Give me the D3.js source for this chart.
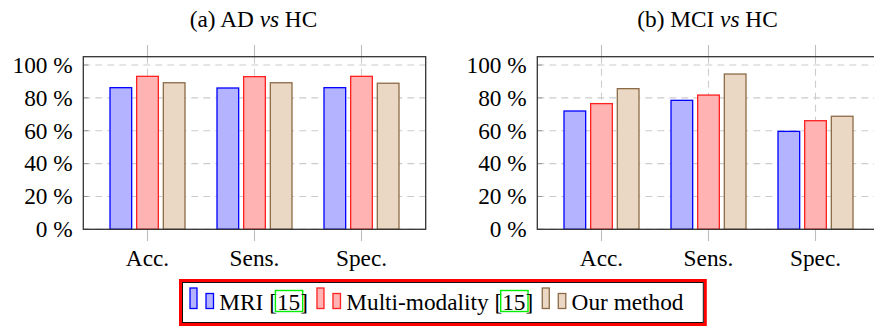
<!DOCTYPE html>
<html><head><meta charset="utf-8">
<script src="https://cdn.jsdelivr.net/npm/d3@7"></script>
<style>body{margin:0;background:#fff}svg{display:block}text{font-family:'Liberation Serif','Times New Roman',Times,'DejaVu Serif',serif}</style>
</head><body>
<svg id="c" width="874" height="327"></svg>
<script>
const categories = ["Acc.", "Sens.", "Spec."];
const seriesNames = ["MRI", "Multi-modality", "Our method"];
const yTicks = [0, 20, 40, 60, 80, 100];
const panelTitles = [["(a) AD ", "vs", " HC"], ["(b) MCI ", "vs", " HC"]];
// values (%) per series, per category
const adMRI   = [86.2, 86.0, 86.2];
const adMulti = [93.1, 92.9, 93.1];
const adOurs  = [89.2, 89.2, 88.9];
const mciMRI   = [72.0, 78.5, 59.6];
const mciMulti = [76.5, 81.7, 66.1];
const mciOurs  = [85.6, 94.5, 68.8];
const legendRef = "15";

const fills = ["#b3b3ff", "#ffb3b3", "#ead8c4"];
const strokes = ["#0000ff", "#ff2020", "#8c6a46"];

const svg = d3.select("#c");
const FS = 23.3;
const panels = [
  {left: 83.3, title: panelTitles[0], data: [adMRI, adMulti, adOurs]},
  {left: 537.3, title: panelTitles[1], data: [mciMRI, mciMulti, mciOurs]}
];
const W = 342.4, plotTop = 56.7, plotBottom = 229.3;
const y = d3.scaleLinear().domain([0, 100]).range([plotBottom, 65]);

panels.forEach(p => {
  const g = svg.append("g");
  const x = d3.scaleBand().domain(categories).range([p.left, p.left + W]).paddingInner(0).paddingOuter(0.1);
  const xs = d3.scaleBand().domain(seriesNames).range([-37.5, 37.5]).paddingInner(0.187).paddingOuter(0);
  const right = p.left + W;
  g.selectAll(".hg").data(yTicks).join("line")
    .attr("x1", p.left).attr("x2", right)
    .attr("y1", d => y(d)).attr("y2", d => y(d))
    .attr("stroke", "#cccccc").attr("stroke-width", 1.1).attr("stroke-dasharray", "7,5");
  g.selectAll(".vg").data(categories).join("line")
    .attr("x1", d => x(d) + x.bandwidth() / 2).attr("x2", d => x(d) + x.bandwidth() / 2)
    .attr("y1", plotTop).attr("y2", plotBottom)
    .attr("stroke", "#cccccc").attr("stroke-width", 1.1).attr("stroke-dasharray", "7,5");
  categories.forEach(c => {
    const cx = x(c) + x.bandwidth() / 2;
    g.append("line").attr("x1", cx).attr("x2", cx).attr("y1", 45).attr("y2", plotTop).attr("stroke", "#bdbdbd").attr("stroke-width", 1.1);
    g.append("line").attr("x1", cx).attr("x2", cx).attr("y1", plotBottom).attr("y2", 241).attr("stroke", "#bdbdbd").attr("stroke-width", 1.1);
  });
  g.selectAll(".yt").data(yTicks).join("line")
    .attr("x1", p.left).attr("x2", p.left + 5)
    .attr("y1", d => y(d)).attr("y2", d => y(d))
    .attr("stroke", "#999").attr("stroke-width", 1);
  p.data.forEach((vals, si) => {
    g.selectAll(".b" + si).data(vals).join("rect")
      .attr("x", (d, i) => x(categories[i]) + x.bandwidth() / 2 + xs(seriesNames[si]))
      .attr("width", xs.bandwidth())
      .attr("y", d => y(d)).attr("height", d => y(0) - y(d))
      .attr("fill", fills[si]).attr("stroke", strokes[si]).attr("stroke-width", 1.3);
  });
  g.append("rect").attr("x", p.left).attr("y", plotTop).attr("width", W).attr("height", plotBottom - plotTop)
    .attr("fill", "none").attr("stroke", "#333").attr("stroke-width", 1.3);
  g.selectAll(".yl").data(yTicks).join("text")
    .attr("x", p.left - 10.6).attr("y", d => y(d) + 7.8)
    .attr("text-anchor", "end").attr("font-size", FS).attr("fill", "#000")
    .text(d => d + " %");
  g.selectAll(".xl").data(categories).join("text")
    .attr("x", d => x(d) + x.bandwidth() / 2).attr("y", 266)
    .attr("text-anchor", "middle").attr("font-size", FS).attr("fill", "#000")
    .text(d => d);
  const t = g.append("text").attr("x", p.left + W / 2 - 1).attr("y", 27)
    .attr("text-anchor", "middle").attr("font-size", FS).attr("fill", "#000");
  t.append("tspan").text(p.title[0]);
  t.append("tspan").attr("font-style", "italic").text(p.title[1]);
  t.append("tspan").text(p.title[2]);
});

const lg = svg.append("g");
lg.append("rect").attr("x", 180.5).attr("y", 280.5).attr("width", 524.8).attr("height", 44)
  .attr("fill", "#fff").attr("stroke", "#ff0000").attr("stroke-width", 3);
lg.append("rect").attr("x", 182.5).attr("y", 282.5).attr("width", 520.8).attr("height", 40)
  .attr("fill", "none").attr("stroke", "#111").attr("stroke-width", 1);
let lx = 190;
const base = 309.5;
seriesNames.forEach((name, si) => {
  lg.append("rect").attr("x", lx).attr("y", 288).attr("width", 7).attr("height", 20.5)
    .attr("fill", fills[si]).attr("stroke", strokes[si]).attr("stroke-width", 1.3);
  lg.append("rect").attr("x", lx + 16).attr("y", 293.5).attr("width", 7.5).attr("height", 15)
    .attr("fill", fills[si]).attr("stroke", strokes[si]).attr("stroke-width", 1.3);
  lx += 29.3;
  const addText = (s) => {
    const t = lg.append("text").attr("x", lx).attr("y", base).attr("font-size", FS).attr("fill", "#000").text(s);
    const w = t.node().getComputedTextLength();
    lx += w;
    return w;
  };
  if (si < 2) {
    addText(name + " [");
    const x0 = lx;
    const w = addText(legendRef);
    lg.append("rect").attr("x", x0 - 1.5).attr("y", 290.5).attr("width", w + 4).attr("height", 21)
      .attr("fill", "none").attr("stroke", "#00ee00").attr("stroke-width", 1.4);
    addText("]");
    lx += 9;
  } else {
    addText(name);
  }
});
</script>
</body></html>
